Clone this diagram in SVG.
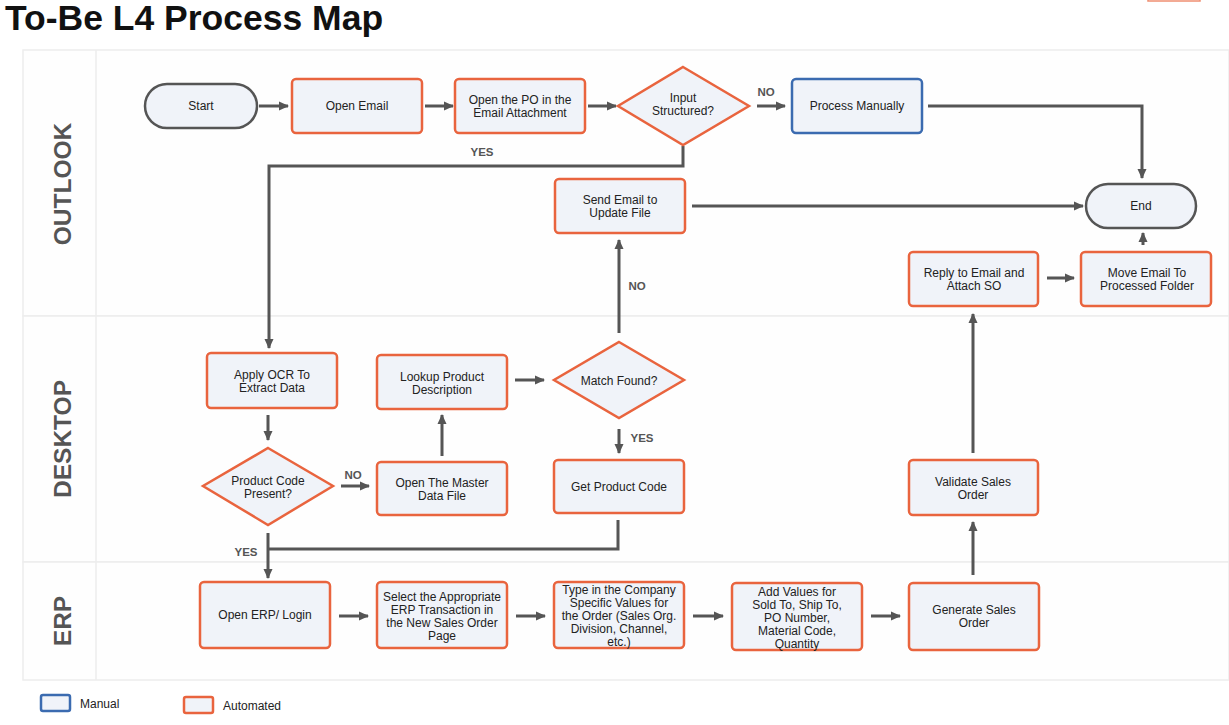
<svg xmlns="http://www.w3.org/2000/svg" width="1229" height="725" viewBox="0 0 1229 725">
<style>
text{font-family:"Liberation Sans",Arial,sans-serif;}
.title{font-size:35.5px;font-weight:bold;fill:#111;}
.lane{fill:#fefefe;stroke:#ededed;stroke-width:1.5;}
.lanelbl{font-size:24.5px;font-weight:bold;fill:#555;text-anchor:middle;}
.auto{fill:#f0f3f9;stroke:#e9643e;stroke-width:2.5;}
.man{fill:#f0f3f9;stroke:#3b6bb0;stroke-width:2.5;}
.term{fill:#f0f3f9;stroke:#555;stroke-width:2.5;}
.t{font-size:12px;fill:#222;text-anchor:middle;}
.lbl{font-size:11.5px;font-weight:bold;fill:#555;text-anchor:middle;}
.c{fill:none;stroke:#555;stroke-width:3;}
.ca{fill:none;stroke:#555;stroke-width:3;marker-end:url(#ah);}
.leg{font-size:12px;fill:#222;}
</style>
<defs>
<marker id="ah" markerUnits="userSpaceOnUse" markerWidth="10" markerHeight="10" refX="9" refY="5" orient="auto">
<path d="M0,0.5 L10,5 L0,9.5 z" fill="#555"/>
</marker>
</defs>
<rect x="0" y="0" width="1229" height="725" fill="#ffffff"/>
<text class="title" x="5" y="30">To-Be L4 Process Map</text>
<rect x="1148" y="-3" width="52" height="4" fill="none" stroke="#ef8f72" stroke-width="1.5"/>

<g id="lanes">
<rect class="lane" x="23" y="50" width="1206" height="266"/>
<rect class="lane" x="23" y="316" width="1206" height="246"/>
<rect class="lane" x="23" y="562" width="1206" height="118"/>
<line x1="96" y1="50" x2="96" y2="680" stroke="#ededed" stroke-width="1.5"/>
<text class="lanelbl" transform="translate(71,184) rotate(-90)">OUTLOOK</text>
<text class="lanelbl" transform="translate(71,439) rotate(-90)">DESKTOP</text>
<text class="lanelbl" transform="translate(71,621) rotate(-90)">ERP</text>
</g>

<g id="connectors">
<path class="ca" d="M259,106 H288"/>
<path class="ca" d="M425,106 H453"/>
<path class="ca" d="M588,106 H616"/>
<path class="ca" d="M757,106 H785"/>
<path class="ca" d="M928,106 H1142 V178"/>
<path class="ca" d="M683,146 V166 H269 V348"/>
<path class="ca" d="M692,206 H1083"/>
<path class="ca" d="M268,415 V440"/>
<path class="ca" d="M341,486 H369"/>
<path class="ca" d="M442,456 V415"/>
<path class="ca" d="M515,380 H544"/>
<path class="ca" d="M619,333 V240"/>
<path class="ca" d="M619,429 V453"/>
<path class="c" d="M618,520 V549 H269"/>
<path class="ca" d="M268,533 V578"/>
<path class="ca" d="M339,616 H368"/>
<path class="ca" d="M516,616 H545"/>
<path class="ca" d="M693,616 H723"/>
<path class="ca" d="M871,616 H900"/>
<path class="ca" d="M973,575 V522"/>
<path class="ca" d="M973,453 V314"/>
<path class="ca" d="M1047,278 H1074"/>
<path class="ca" d="M1143,245 V233"/>
<text class="lbl" x="766" y="96">NO</text>
<text class="lbl" x="482" y="156">YES</text>
<text class="lbl" x="353" y="479">NO</text>
<text class="lbl" x="637" y="290">NO</text>
<text class="lbl" x="642" y="442">YES</text>
<text class="lbl" x="246" y="556">YES</text>
</g>

<g id="start">
<rect class="term" x="145" y="84" width="112" height="44" rx="22"/>
<text class="t" x="201" y="110">Start</text>
</g>
<g id="open-email">
<rect class="auto" x="292" y="79" width="130" height="54" rx="4"/>
<text class="t" x="357" y="110">Open Email</text>
</g>
<g id="open-po">
<rect class="auto" x="455" y="79" width="130" height="54" rx="4"/>
<text class="t" x="520" y="104">Open the PO in the<tspan x="520" dy="13">Email Attachment</tspan></text>
</g>
<g id="input-structured">
<polygon class="auto" points="683,67 749,106 683,145 618,106"/>
<text class="t" x="683" y="102">Input<tspan x="683" dy="13">Structured?</tspan></text>
</g>
<g id="process-manually">
<rect class="man" x="792" y="79" width="130" height="54" rx="4"/>
<text class="t" x="857" y="110">Process Manually</text>
</g>
<g id="end">
<rect class="term" x="1086" y="184" width="110" height="44" rx="22"/>
<text class="t" x="1141" y="210">End</text>
</g>
<g id="send-email">
<rect class="auto" x="555" y="179" width="130" height="54" rx="4"/>
<text class="t" x="620" y="204">Send Email to<tspan x="620" dy="13">Update File</tspan></text>
</g>
<g id="reply-email">
<rect class="auto" x="909" y="252" width="129" height="54" rx="4"/>
<text class="t" x="974" y="277">Reply to Email and<tspan x="974" dy="13">Attach SO</tspan></text>
</g>
<g id="move-email">
<rect class="auto" x="1081" y="252" width="130" height="54" rx="4"/>
<text class="t" x="1147" y="277">Move Email To<tspan x="1147" dy="13">Processed Folder</tspan></text>
</g>
<g id="apply-ocr">
<rect class="auto" x="207" y="353" width="130" height="55" rx="4"/>
<text class="t" x="272" y="379">Apply OCR To<tspan x="272" dy="13">Extract Data</tspan></text>
</g>
<g id="lookup">
<rect class="auto" x="377" y="355" width="130" height="54" rx="4"/>
<text class="t" x="442" y="381">Lookup Product<tspan x="442" dy="13">Description</tspan></text>
</g>
<g id="match-found">
<polygon class="auto" points="619,342 684,380 619,418 554,380"/>
<text class="t" x="619" y="385">Match Found?</text>
</g>
<g id="product-code-present">
<polygon class="auto" points="268,448 333,486 268,525 203,486"/>
<text class="t" x="268" y="485">Product Code<tspan x="268" dy="13">Present?</tspan></text>
</g>
<g id="open-master">
<rect class="auto" x="377" y="462" width="130" height="53" rx="4"/>
<text class="t" x="442" y="487">Open The Master<tspan x="442" dy="13">Data File</tspan></text>
</g>
<g id="get-product-code">
<rect class="auto" x="554" y="460" width="130" height="53" rx="4"/>
<text class="t" x="619" y="491">Get Product Code</text>
</g>
<g id="validate">
<rect class="auto" x="909" y="460" width="129" height="55" rx="4"/>
<text class="t" x="973" y="486">Validate Sales<tspan x="973" dy="13">Order</tspan></text>
</g>
<g id="open-erp">
<rect class="auto" x="200" y="582" width="130" height="66" rx="4"/>
<text class="t" x="265" y="619">Open ERP/ Login</text>
</g>
<g id="select-transaction">
<rect class="auto" x="377" y="582" width="130" height="66" rx="4"/>
<text class="t" x="442" y="601">Select the Appropriate<tspan x="442" dy="13">ERP Transaction in</tspan><tspan x="442" dy="13">the New Sales Order</tspan><tspan x="442" dy="13">Page</tspan></text>
</g>
<g id="type-values">
<rect class="auto" x="554" y="582" width="130" height="66" rx="4"/>
<text class="t" x="619" y="594">Type in the Company<tspan x="619" dy="13">Specific Values for</tspan><tspan x="619" dy="13">the Order (Sales Org.</tspan><tspan x="619" dy="13">Division, Channel,</tspan><tspan x="619" dy="13">etc.)</tspan></text>
</g>
<g id="add-values">
<rect class="auto" x="732" y="583" width="130" height="67" rx="4"/>
<text class="t" x="797" y="596">Add Values for<tspan x="797" dy="13">Sold To, Ship To,</tspan><tspan x="797" dy="13">PO Number,</tspan><tspan x="797" dy="13">Material Code,</tspan><tspan x="797" dy="13">Quantity</tspan></text>
</g>
<g id="generate-so">
<rect class="auto" x="909" y="583" width="130" height="67" rx="4"/>
<text class="t" x="974" y="614">Generate Sales<tspan x="974" dy="13">Order</tspan></text>
</g>

<g id="legend">
<rect class="man" x="41" y="695" width="29" height="16" rx="2" stroke-width="2"/>
<text class="leg" x="80" y="708">Manual</text>
<rect class="auto" x="184" y="697" width="29" height="16" rx="2" stroke-width="2"/>
<text class="leg" x="223" y="710">Automated</text>
</g>
</svg>
